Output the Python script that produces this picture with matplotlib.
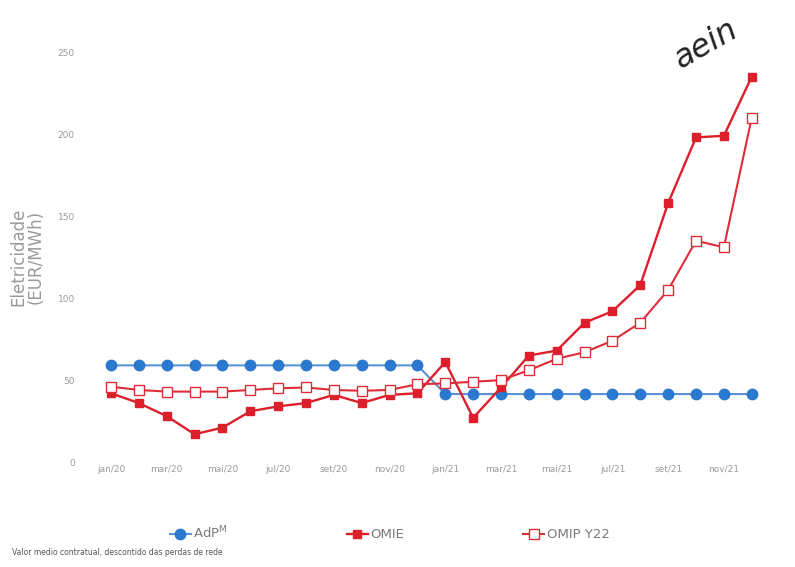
import matplotlib.pyplot as plt

# monthly prices, jan/20 .. dez/21 (EUR/MWh)
months = ['jan/20', 'fev/20', 'mar/20', 'abr/20', 'mai/20', 'jun/20',
          'jul/20', 'ago/20', 'set/20', 'out/20', 'nov/20', 'dez/20',
          'jan/21', 'fev/21', 'mar/21', 'abr/21', 'mai/21', 'jun/21',
          'jul/21', 'ago/21', 'set/21', 'out/21', 'nov/21', 'dez/21']
adp = [59, 59, 59, 59, 59, 59, 59, 59, 59, 59, 59, 59,
       41.5, 41.5, 41.5, 41.5, 41.5, 41.5, 41.5, 41.5, 41.5, 41.5, 41.5, 41.5]
omie = [42, 36, 28, 17, 21, 31, 34, 36, 41, 36, 41, 42,
        61, 27, 45.5, 65, 68, 85, 92, 108, 158, 198, 199, 235]
omip = [46, 44, 43, 43, 43, 44, 45, 45.5, 44, 43.5, 44, 47.5,
        48, 49, 50, 56, 63, 67, 74, 85, 105, 135, 131, 210]

x = list(range(len(months)))
grey = '#9a9a9a'

fig = plt.figure(figsize=(7.95, 5.67), dpi=100)
ax = fig.add_axes([0.1186, 0.185, 0.848, 0.723])

ax.plot(x, adp, color='#5b93d3', lw=1.5, marker='o', ms=7.5,
        mfc='#2a78cf', mec='#2a78cf', label='AdP$^\\mathregular{M}$', clip_on=False)
ax.plot(x, omie, color='#dd1f2b', lw=1.7, marker='s', ms=6,
        mfc='#dd1f2b', mec='#dd1f2b', label='OMIE', clip_on=False)
ax.plot(x, omip, color='#df2c38', lw=1.5, marker='s', ms=6.5,
        mfc='white', mec='#df2c38', mew=1.0, label='OMIP Y22', clip_on=False)

ax.set_xlim(-0.6, 23.6)
ax.set_ylim(0, 250)
ax.set_yticks([0, 50, 100, 150, 200, 250])
ax.set_xticks(x[::2])
ax.set_xticklabels(months[::2])
ax.tick_params(axis='both', length=0, labelsize=6.5, labelcolor=grey)
ax.tick_params(axis='x', pad=2)
ax.tick_params(axis='y', pad=14)
for s in ax.spines.values():
    s.set_visible(False)

ax.set_ylabel('Eletricidade\n(EUR/MWh)', fontsize=12, color=grey,
              linespacing=1.0, labelpad=9)

leg = fig.legend(loc='center', bbox_to_anchor=(0.49, 0.06), ncol=3,
                 frameon=False, fontsize=9.5, handlelength=1.6,
                 columnspacing=9.0, handletextpad=0.2)
for t in leg.get_texts():
    t.set_color('#7a7a7a')

fig.text(0.015, 0.022, 'Valor medio contratual, descontido das perdas de rede',
         fontsize=5.5, color='#555555')

# handwritten note in the top corner
fig.text(0.888, 0.922, 'aein', fontsize=23, rotation=30, color='#222222',
         style='italic', ha='center', va='center')

fig.savefig('out.png', dpi=100)
